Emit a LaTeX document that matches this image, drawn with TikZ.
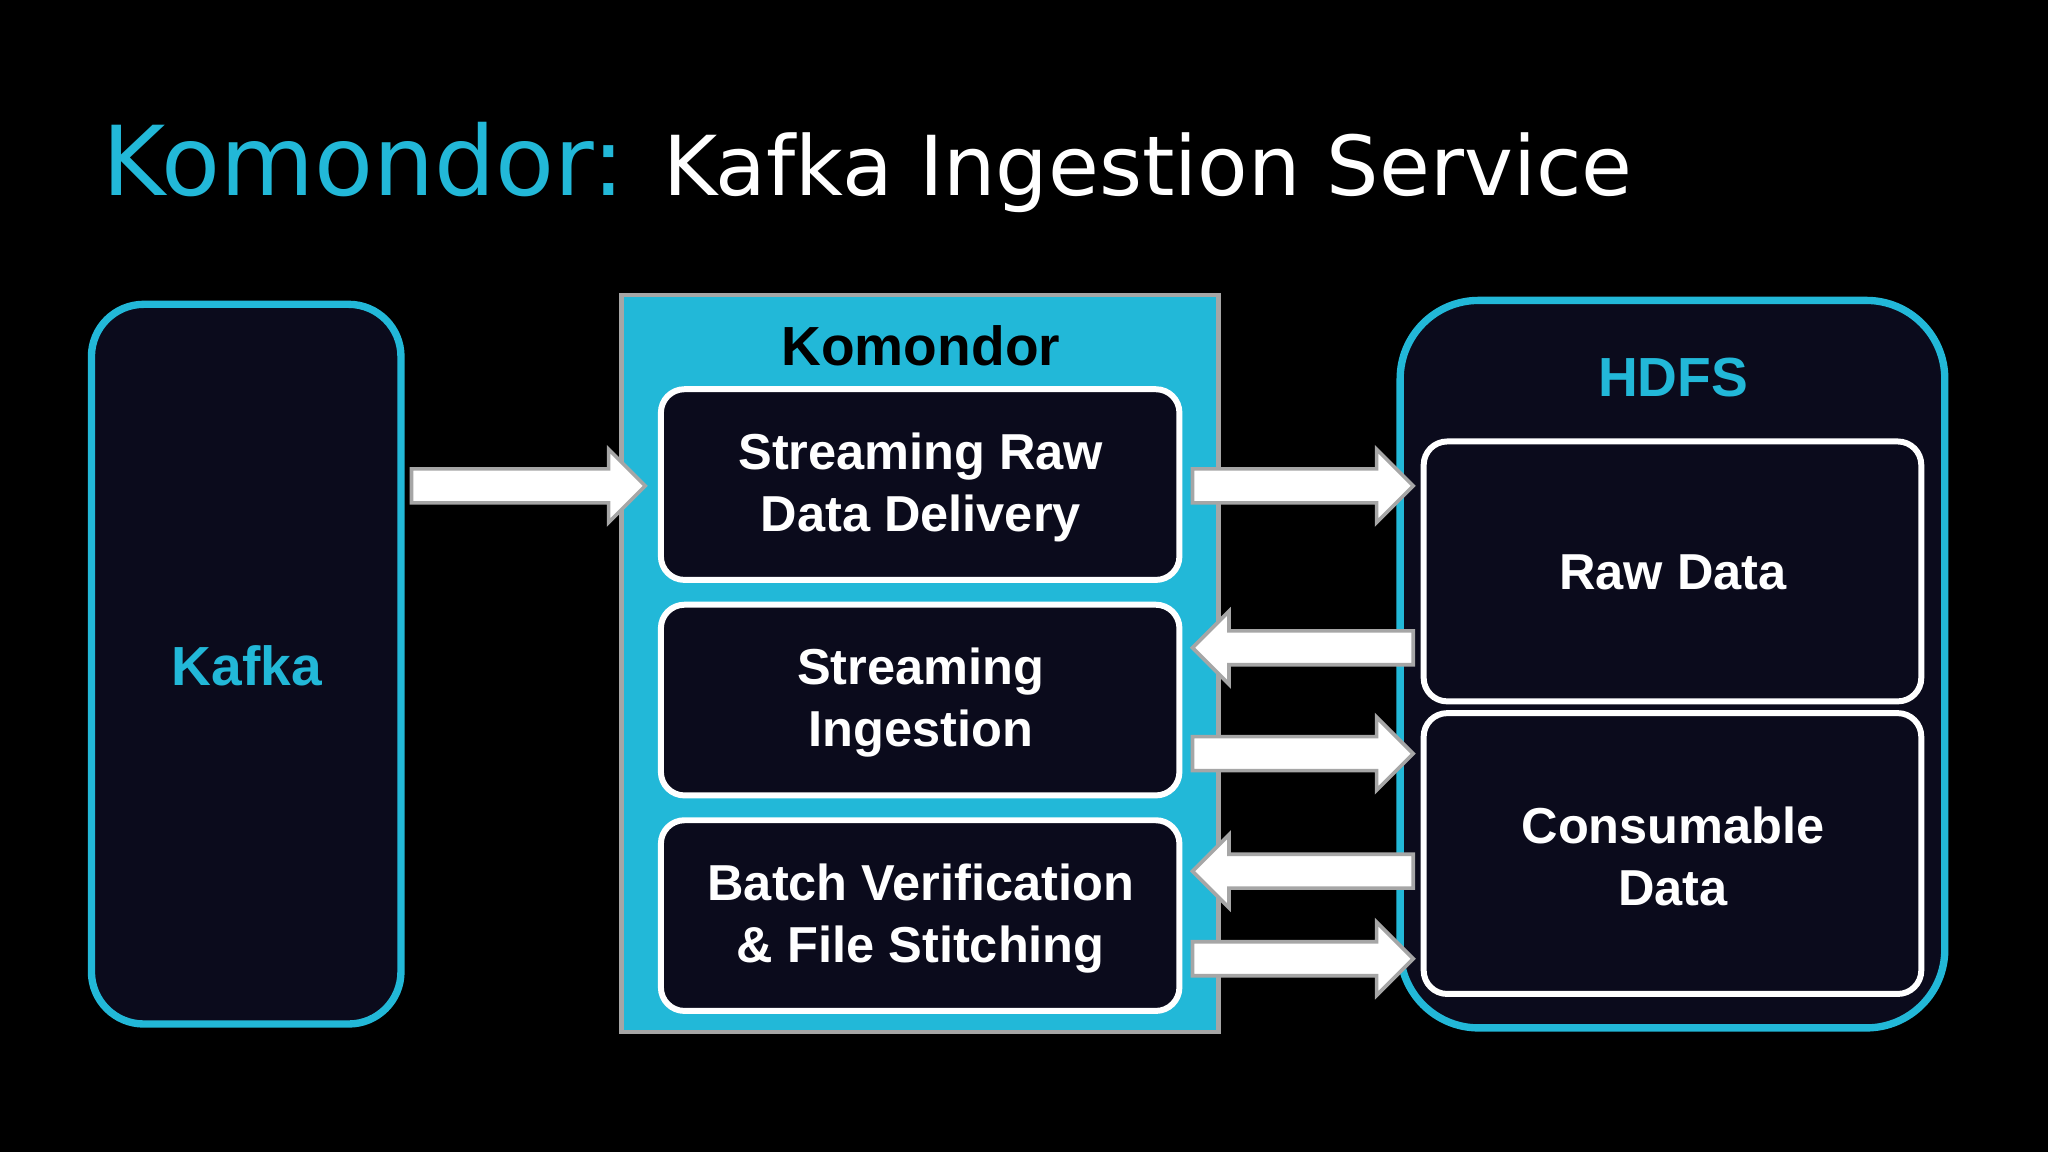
\documentclass[tikz,border=0pt]{standalone}
\usepackage{fontspec}
\setmainfont{Liberation Sans}
\newfontfamily\titlefont{DejaVu Sans}
\begin{document}
\begin{tikzpicture}[x=0.01cm,y=-0.01cm,
  inner/.style={draw=white, line width=1.3pt, fill=navy, rounded corners=0.18cm, align=center, text=white, font=\bfseries\fontsize{11}{13.5}\selectfont},
  blk/.style={draw=gray!70, line width=0.8pt, fill=white}]
\definecolor{navy}{HTML}{0B0B1C}
\definecolor{kcyan}{HTML}{22B8D8}
\useasboundingbox (0,0) rectangle (1568,882);
\fill[black] (0,0) rectangle (1568,882);
\node[anchor=base west, text=kcyan, font=\titlefont\fontsize{21}{24}\selectfont, inner sep=0] (t1) at (78,150) {Komondor:};
\node[anchor=base west, text=white, font=\titlefont\fontsize{18}{22}\selectfont, inner sep=0] (t2) at (507,150) {Kafka Ingestion Service};
% Kafka
\draw[draw=kcyan, line width=1.6pt, fill=navy, rounded corners=0.4cm] (70,233) rectangle (307,784);
\node[text=kcyan, font=\bfseries\fontsize{12}{14}\selectfont] (kafka) at (189,510) {Kafka};
% Komondor
\draw[draw=gray!70, line width=1pt, fill=kcyan] (476,226) rectangle (933,790);
\node[font=\bfseries\fontsize{12}{14}\selectfont] (kom) at (705,265) {Komondor};
\draw[inner] (506,298) rectangle (903,444);
\node[inner,draw=none,fill=none] (s1) at (705,373) {Streaming Raw\\Data Delivery};
\draw[inner] (506,463) rectangle (903,609);
\node[inner,draw=none,fill=none] (s2) at (705,538) {Streaming\\Ingestion};
\draw[inner] (506,628) rectangle (903,774);
\node[inner,draw=none,fill=none] (s3) at (705,703) {Batch Verification\\\& File Stitching};
% HDFS
\draw[draw=kcyan, line width=1.6pt, fill=navy, rounded corners=0.6cm] (1072,230) rectangle (1489,787);
\node[text=kcyan, font=\bfseries\fontsize{12}{14}\selectfont] (hdfs) at (1281,289) {HDFS};
\draw[inner] (1090,338) rectangle (1471,537);
\node[inner,draw=none,fill=none] (raw) at (1281,438) {Raw Data};
\draw[inner] (1090,546) rectangle (1471,761);
\node[inner,draw=none,fill=none] (cons) at (1281,656) {Consumable\\Data};
% block arrows
\newcommand{\rarr}[3]{\draw[blk] (#1,#3-13) -- (#2-28,#3-13) -- (#2-28,#3-28) -- (#2,#3) -- (#2-28,#3+28) -- (#2-28,#3+13) -- (#1,#3+13) -- cycle;}
\newcommand{\larr}[3]{\draw[blk] (#1,#3-13) -- (#2+28,#3-13) -- (#2+28,#3-28) -- (#2,#3) -- (#2+28,#3+28) -- (#2+28,#3+13) -- (#1,#3+13) -- cycle;}
\rarr{315}{494}{372}
\rarr{913}{1082}{372}
\larr{1082}{913}{496}
\rarr{913}{1082}{577}
\larr{1082}{913}{667}
\rarr{913}{1082}{734}
\end{tikzpicture}
\end{document}
